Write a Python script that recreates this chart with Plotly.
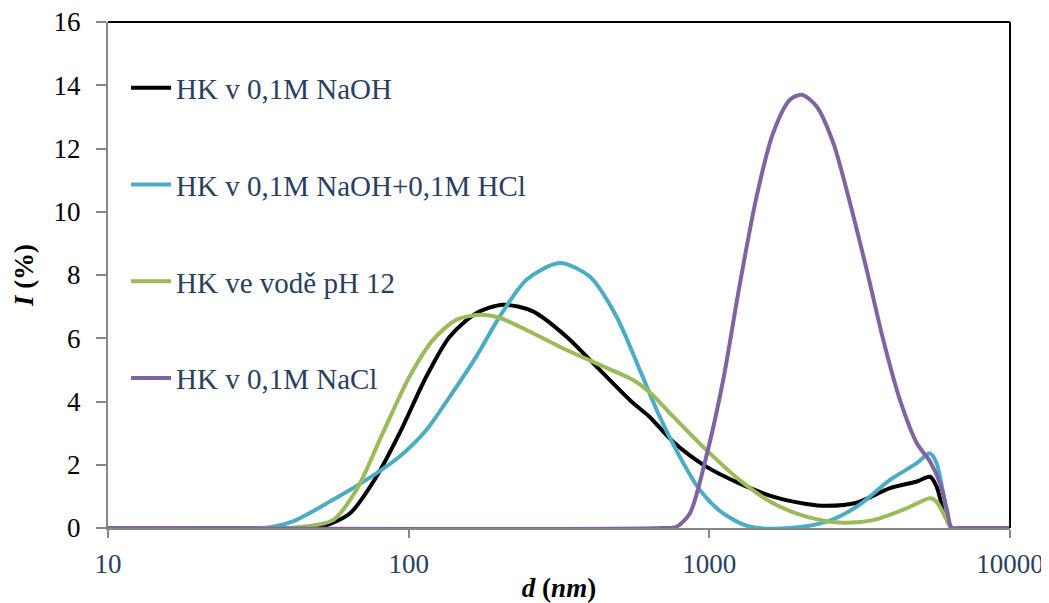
import plotly.graph_objects as go

# --- data ---
names = ["HK v 0,1M NaOH", "HK v 0,1M NaOH+0,1M HCl", "HK ve vodě pH 12", "HK v 0,1M NaCl"]
colors = ["#000000", "#4BACC6", "#9BBB59", "#8064A2"]

naoh_x = [10, 45, 50.6, 63.7, 78.1, 93.3, 114.5, 136.9, 167.8, 206, 259, 335, 432, 558, 632, 759, 977,
          1259, 1629, 2103, 2455, 3090, 3990, 4900, 5420, 5700, 6000, 6400, 6900, 10000]
naoh_y = [0, 0, 0.02, 0.46, 1.62, 3.0, 4.79, 6.05, 6.79, 7.06, 6.85, 6.05, 5.0, 3.95, 3.52, 2.72, 1.94,
          1.41, 0.99, 0.76, 0.70, 0.80, 1.26, 1.47, 1.62, 1.31, 0.57, 0, 0, 0]

hcl_x = [10, 33, 41, 56, 72.3, 93.3, 114.5, 136.9, 167.8, 201, 246.6, 318, 400, 491, 587, 684, 797, 930,
         1112, 1365, 1854, 2455, 3090, 3990, 4900, 5420, 5700, 6000, 6400, 6900, 10000]
hcl_y = [0, 0, 0.2, 0.89, 1.52, 2.26, 3.1, 4.15, 5.42, 6.69, 7.85, 8.38, 7.95, 6.69, 5.0, 3.52, 2.26, 1.2,
         0.46, 0.04, 0, 0.2, 0.67, 1.52, 2.05, 2.36, 2.05, 1.1, 0, 0, 0]

ph12_x = [10, 40, 43.3, 56, 67, 82, 100.7, 120.5, 144, 172, 201, 259, 335, 432, 558, 632, 759, 977,
          1259, 1629, 2103, 2716, 3507, 4530, 5420, 5700, 6170, 6400, 6900, 10000]
ph12_y = [0, 0, 0.03, 0.25, 1.2, 3.0, 4.79, 5.95, 6.58, 6.74, 6.64, 6.16, 5.63, 5.16, 4.68, 4.3, 3.52, 2.47,
          1.52, 0.78, 0.36, 0.17, 0.25, 0.62, 0.94, 0.83, 0.25, 0, 0, 0]

nacl_x = [10, 700, 778, 861, 977, 1112, 1259, 1436, 1630, 1854, 2027, 2275, 2585, 2938, 3338, 3788,
          4304, 4900, 5420, 5850, 6170, 6400, 6900, 10000]
nacl_y = [0, 0, 0.04, 0.46, 2.26, 4.68, 7.64, 10.48, 12.49, 13.54, 13.70, 13.33, 12.17, 10.27, 8.16, 5.95,
          4.05, 2.68, 2.1, 1.41, 0.57, 0, 0, 0]

series_x = [naoh_x, hcl_x, ph12_x, nacl_x]
series_y = [naoh_y, hcl_y, ph12_y, nacl_y]

y_ticks = [0, 2, 4, 6, 8, 10, 12, 14, 16]
x_ticks = [10, 100, 1000, 10000]

FONT = "Liberation Serif"

fig = go.Figure()
for i, (nm, c, xs, ys) in enumerate(zip(names, colors, series_x, series_y)):
    fig.add_trace(go.Scatter(
        x=xs, y=ys, name=nm, mode="lines",
        line=dict(color=c, width=4, shape="spline", smoothing=0.8),
        legendgroup=f"g{i}",
    ))

fig.update_layout(
    width=1041, height=595,
    margin=dict(l=100, r=39, t=14, b=75, autoexpand=False),
    paper_bgcolor="white", plot_bgcolor="white",
    font=dict(family=FONT, size=27),
    showlegend=True,
    legend=dict(
        x=0.02, y=0.92, xanchor="left", yanchor="top",
        bgcolor="rgba(0,0,0,0)", font=dict(family=FONT, size=29),
        tracegroupgap=56, itemwidth=40,
    ),
    xaxis=dict(
        type="log", range=[1, 4], tickvals=x_ticks, ticktext=[str(v) for v in x_ticks],
        showgrid=False, zeroline=False, showline=True, linecolor="#888888", linewidth=2,
        ticks="outside", ticklen=8, tickcolor="#888888", tickwidth=1.5, automargin=False,
        ticklabeloverflow="allow", ticklabelstandoff=3,
        tickfont=dict(family=FONT, size=27),
        title=dict(text="<b><i>d</i> (<i>nm</i>)</b>", font=dict(family=FONT, size=27, color="black"), standoff=4),
    ),
    yaxis=dict(
        range=[0, 16], tickvals=y_ticks,
        showgrid=False, zeroline=False, showline=True, linecolor="#888888", linewidth=2,
        ticks="outside", ticklen=10, tickcolor="#888888", tickwidth=1.5, automargin=False,
        ticklabeloverflow="allow", ticklabelstandoff=10,
        tickfont=dict(family=FONT, size=27, color="black"),
        title=dict(text="<b><i>I</i> (%)</b>", font=dict(family=FONT, size=27, color="black"), standoff=12),
    ),
    shapes=[
        dict(type="line", xref="paper", yref="paper", x0=0, x1=1, y0=1, y1=1,
             line=dict(color="black", width=2)),
        dict(type="line", xref="paper", yref="paper", x0=1, x1=1, y0=0, y1=1,
             line=dict(color="black", width=2)),
    ],
)

fig.write_html("out.html")
